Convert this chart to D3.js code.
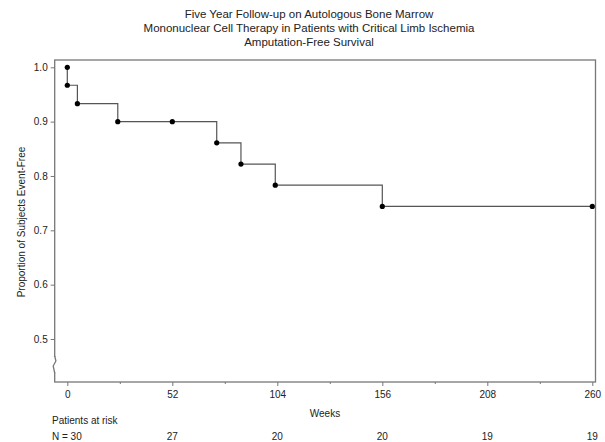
<!DOCTYPE html>
<html>
<head>
<meta charset="utf-8">
<script src="https://d3js.org/d3.v7.min.js"></script>
<style>
  body { margin: 0; background: #fff; }
  text { font-family: "Liberation Sans", Arial, sans-serif; fill: #222; }
</style>
</head>
<body>
<svg id="vis"></svg>
<script>
  // chart data
  var titleLines = ["Five Year Follow-up on Autologous Bone Marrow",
                    "Mononuclear Cell Therapy in Patients with Critical Limb Ischemia",
                    "Amputation-Free Survival"];
  var stepWeeks = [0, 0, 5, 25, 74, 86, 103, 156];
  var stepSurv  = [1.0, 0.967, 0.933, 0.9, 0.861, 0.822, 0.783, 0.744];
  var lastWeek = 260;
  var markWeeks = [0, 0, 5, 25, 52, 74, 86, 103, 156, 260];
  var markSurv  = [1.0, 0.967, 0.933, 0.9, 0.9, 0.861, 0.822, 0.783, 0.744, 0.744];
  var xTicks = [0, 52, 104, 156, 208, 260];
  var xMinor = [26, 78, 130, 182, 234];
  var yTicks = [0.5, 0.6, 0.7, 0.8, 0.9, 1.0];
  var riskWeeks = [0, 52, 104, 156, 208, 260];
  var riskCounts = [30, 27, 20, 20, 19, 19];

  var W = 605, H = 442;
  var frame = {left: 54.7, right: 595.5, top: 60, bottom: 382};

  var svg = d3.select("#vis")
      .attr('width', W)
      .attr('height', H);

  var xScale = d3.scaleLinear()
      .domain([0, 260])
      .range([67.3, 592.3]);

  var yScale = d3.scaleLinear()
      .domain([0.5, 1.0])
      .range([339, 67.3]);

  // title
  svg.selectAll('text.title')
      .data(titleLines)
      .enter().append('text')
      .attr('class', 'title')
      .attr('x', 309)
      .attr('y', function(d, i) { return 18 + i * 14; })
      .attr('text-anchor', 'middle')
      .style('font-size', '11.5px')
      .text(function(d) { return d; });

  // frame
  svg.append('rect')
      .attr('x', frame.left)
      .attr('y', frame.top)
      .attr('width', frame.right - frame.left)
      .attr('height', frame.bottom - frame.top)
      .attr('fill', 'none')
      .attr('stroke', '#777')
      .attr('stroke-width', 1.3);

  // y axis
  var yAxis = d3.axisLeft(yScale)
      .tickValues(yTicks)
      .tickSize(4)
      .tickPadding(3)
      .tickFormat(d3.format('.1f'));
  var gy = svg.append('g')
      .attr('transform', 'translate(' + frame.left + ',0)')
      .call(yAxis);
  gy.select('.domain').remove();
  gy.selectAll('line').attr('stroke', '#777');
  gy.selectAll('text').style('font-size', '10px').attr('fill', '#222')
      .style('font-family', '"Liberation Sans", Arial, sans-serif');

  // axis break on y
  svg.append('rect')
      .attr('x', frame.left - 3).attr('y', 357)
      .attr('width', 6).attr('height', 15)
      .attr('fill', '#fff');
  svg.append('path')
      .attr('d', 'M' + frame.left + ',356 L' + (frame.left + 1.2) + ',361 L' + (frame.left - 1.5) + ',366 L' + frame.left + ',373')
      .attr('fill', 'none')
      .attr('stroke', '#777')
      .attr('stroke-width', 1.3);

  // x axis
  var xAxis = d3.axisBottom(xScale)
      .tickValues(xTicks)
      .tickSize(4)
      .tickPadding(5)
      .tickFormat(d3.format('d'));
  var gx = svg.append('g')
      .attr('transform', 'translate(0,' + frame.bottom + ')')
      .call(xAxis);
  gx.select('.domain').remove();
  gx.selectAll('line').attr('stroke', '#777');
  gx.selectAll('text').style('font-size', '10px').attr('fill', '#222')
      .style('font-family', '"Liberation Sans", Arial, sans-serif');

  var gxm = svg.append('g')
      .attr('transform', 'translate(0,' + frame.bottom + ')')
      .call(d3.axisBottom(xScale).tickValues(xMinor).tickSize(2).tickFormat(''));
  gxm.select('.domain').remove();
  gxm.selectAll('line').attr('stroke', '#777');

  // axis titles
  svg.append('text')
      .attr('x', 325)
      .attr('y', 417)
      .attr('text-anchor', 'middle')
      .style('font-size', '10px')
      .text('Weeks');

  svg.append('text')
      .attr('transform', 'translate(25,222) rotate(-90)')
      .attr('text-anchor', 'middle')
      .style('font-size', '10px')
      .text('Proportion of Subjects Event-Free');

  // survival curve
  var pts = stepWeeks.map(function(w, i) { return [w, stepSurv[i]]; });
  pts.push([lastWeek, stepSurv[stepSurv.length - 1]]);

  var line = d3.line()
      .x(function(d) { return xScale(d[0]); })
      .y(function(d) { return yScale(d[1]); })
      .curve(d3.curveStepAfter);

  svg.append('path')
      .datum(pts)
      .attr('d', line)
      .attr('fill', 'none')
      .attr('stroke', '#555')
      .attr('stroke-width', 1.2);

  var marks = markWeeks.map(function(w, i) { return [w, markSurv[i]]; });
  svg.selectAll('circle')
      .data(marks)
      .enter().append('circle')
      .attr('cx', function(d) { return xScale(d[0]); })
      .attr('cy', function(d) { return yScale(d[1]); })
      .attr('r', 2.6)
      .attr('fill', '#000');

  // patients at risk
  svg.append('text')
      .attr('x', 52)
      .attr('y', 424)
      .style('font-size', '10px')
      .text('Patients at risk');

  svg.selectAll('text.risk')
      .data(riskCounts)
      .enter().append('text')
      .attr('class', 'risk')
      .attr('x', function(d, i) { return i === 0 ? 52 : xScale(riskWeeks[i]); })
      .attr('y', 439.5)
      .attr('text-anchor', function(d, i) { return i === 0 ? 'start' : 'middle'; })
      .style('font-size', '10px')
      .text(function(d, i) { return i === 0 ? 'N = ' + d : d; });
</script>
</body>
</html>
